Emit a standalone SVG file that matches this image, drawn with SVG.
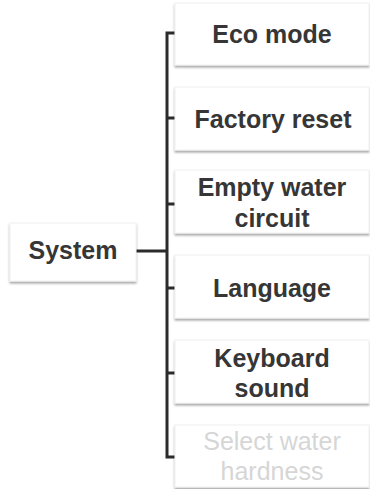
<svg xmlns="http://www.w3.org/2000/svg" width="370" height="489" viewBox="0 0 370 489">
<defs>
<filter id="sh" x="-5%" y="-10%" width="110%" height="130%">
<feDropShadow dx="0" dy="2" stdDeviation="1" flood-color="#000" flood-opacity="0.35"/>
</filter>
<style>
.box{fill:#fff;stroke:#f0f0f0;stroke-width:1;filter:url(#sh)}
.t{font-family:"Liberation Sans",Arial,sans-serif;font-weight:bold;font-size:25px;fill:#363636;text-anchor:middle}
.dim{font-weight:normal;fill:#d6d6d6}
.ln{stroke:#2b2b2b;stroke-width:3;fill:none}
</style>
</defs>
<rect width="370" height="489" fill="#fff"/>
<g id="connectors">
<path class="ln" d="M136 251H167M176 33H167V457H176M167 118H176M167 204H176M167 288H176M167 373H176"/>
</g>
<g id="system"><rect class="box" x="10" y="223" width="126" height="58"/><text class="t" x="73" y="259">System</text></g>
<g id="eco"><rect class="box" x="175" y="3" width="194" height="62"/><text class="t" x="272" y="43">Eco mode</text></g>
<g id="factory"><rect class="box" x="175" y="87" width="194" height="63"/><text class="t" x="273" y="128">Factory reset</text></g>
<g id="empty"><rect class="box" x="175" y="170" width="194" height="63"/><text class="t" x="272" y="196">Empty water</text><text class="t" x="272" y="227">circuit</text></g>
<g id="language"><rect class="box" x="175" y="255" width="194" height="63"/><text class="t" x="272" y="297">Language</text></g>
<g id="keyboard"><rect class="box" x="175" y="340" width="194" height="63"/><text class="t" x="272" y="367">Keyboard</text><text class="t" x="272" y="397">sound</text></g>
<g id="hardness"><rect class="box" x="175" y="425" width="194" height="62"/><text class="t dim" x="272" y="450">Select water</text><text class="t dim" x="272" y="480">hardness</text></g>
</svg>
